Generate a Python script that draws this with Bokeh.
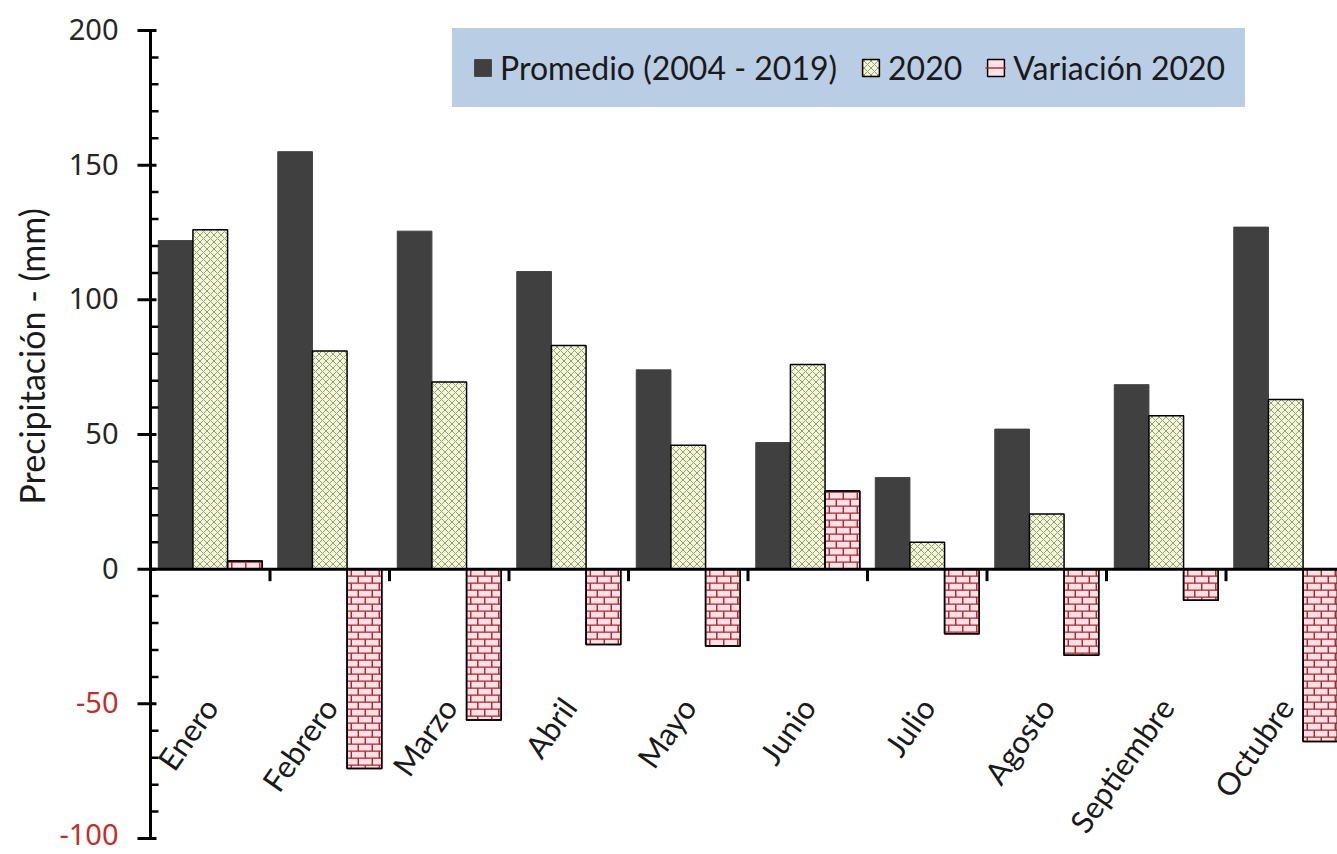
import math
import numpy as np
from bokeh.plotting import figure
from bokeh.models import Range1d, Legend, LegendItem, ColumnDataSource
from bokeh.core.properties import value
from bokeh.embed import file_html
from bokeh.resources import INLINE

# ---------------- data ----------------
months = ["Enero", "Febrero", "Marzo", "Abril", "Mayo", "Junio",
          "Julio", "Agosto", "Septiembre", "Octubre"]
promedio = [122, 155, 125.5, 110.5, 74, 47, 34, 52, 68.5, 127]
anio_2020 = [126, 81, 69.5, 83, 46, 76, 10, 20.5, 57, 63]
variacion = [3, -74, -56, -28, -28.5, 29, -24, -32, -11.5, -64]
y_tick_values = [-100, -50, 0, 50, 100, 150, 200]
y_tick_labels = ["-100", "-50", "0", "50", "100", "150", "200"]
y_min, y_max = -100, 200

# ---------------- layout constants (pixels) ----------------
FIG_W, FIG_H = 1337, 854
AXIS_X_PX = 150          # position of the value axis
CAT_PX = 119.5           # width of one month slot
TOP_PX, BOT_PX = 30, 838  # pixel rows of y_max and y_min
PPU = (BOT_PX - TOP_PX) / (y_max - y_min)


def dx(px):
    return px / CAT_PX


def dy(px):
    return px / PPU


n = len(months)
centers = np.arange(n) + 0.5
W = 0.29

src = ColumnDataSource(dict(
    xp=centers - W, x2=centers, xv=centers + W,
    prom=promedio, a2020=anio_2020, var=variacion, month=months,
))

p = figure(width=FIG_W, height=FIG_H,
           x_range=Range1d(-dx(AXIS_X_PX), dx(FIG_W - AXIS_X_PX)),
           y_range=Range1d(y_min - dy(FIG_H - BOT_PX), y_max + dy(TOP_PX)),
           output_backend="svg", toolbar_location=None,
           x_axis_location=None, y_axis_location=None, min_border=0)
p.grid.visible = False
p.outline_line_color = None
p.background_fill_color = "white"
p.border_fill_color = "white"

BRICK_RED = "#b3202b"
BRICK_FILL = "#fde3e5"

# ---------------- bars ----------------
r_prom = p.vbar(x="xp", top="prom", bottom=0, width=W, source=src,
                fill_color="#404040", line_color="#404040", line_width=1)
r_2020 = p.vbar(x="x2", top="a2020", bottom=0, width=W, source=src,
                fill_color="#f3f6dc", line_color="black", line_width=1.5,
                hatch_pattern="diagonal_cross", hatch_scale=7,
                hatch_color="#95a066", hatch_weight=1)
r_var = p.vbar(x="xv", top="var", bottom=0, width=W, source=src,
               fill_color=BRICK_FILL, line_color="black", line_width=1.5)

# brick pattern of the "Variación" bars, laid out from each bar's value
BRICK_H = dy(7)
BRICK_W = dx(14)
bx0, by0, bx1, by1 = [], [], [], []
for c, v in zip(centers + W, variacion):
    xl, xr = c - W / 2, c + W / 2
    s = 1 if v >= 0 else -1
    h = abs(v)
    nrows = int(math.ceil(h / BRICK_H - 1e-9))
    for k in range(nrows):
        y_lo = k * BRICK_H
        y_hi = min((k + 1) * BRICK_H, h)
        if k > 0:
            bx0.append(xl); bx1.append(xr)
            by0.append(s * y_lo); by1.append(s * y_lo)
        xj = xl + (0.3 if k % 2 == 0 else 0.8) * BRICK_W
        while xj < xr - 1e-9:
            bx0.append(xj); bx1.append(xj)
            by0.append(s * y_lo); by1.append(s * y_hi)
            xj += BRICK_W
r_bricks = p.segment(x0=bx0, y0=by0, x1=bx1, y1=by1,
                     line_color=BRICK_RED, line_width=1.4)
p.vbar(x="xv", top="var", bottom=0, width=W, source=src,
       fill_alpha=0, line_color="black", line_width=1.5)

# ---------------- value axis (drawn by hand so negative labels can be red) ----------------
p.segment(x0=0, y0=y_min, x1=0, y1=y_max, line_color="black", line_width=3)
major_vals = np.array(y_tick_values, dtype=float)
p.segment(x0=-dx(13), y0=major_vals, x1=dx(6), y1=major_vals,
          line_color="black", line_width=3)
minor_vals = np.array([v for v in range(y_min, y_max + 1, 10) if v % 50 != 0], dtype=float)
p.segment(x0=0, y0=minor_vals, x1=dx(8), y1=minor_vals,
          line_color="black", line_width=2.5)
upper = [(v, t) for v, t in zip(y_tick_values, y_tick_labels) if v > y_min]
lowest = [(v, t) for v, t in zip(y_tick_values, y_tick_labels) if v == y_min]
p.text(x=-dx(32), y=[v for v, _ in upper], text=[t for _, t in upper],
       text_color=["#c0302b" if v < 0 else "#262626" for v, _ in upper],
       text_align="right", text_baseline="middle", y_offset=-1,
       text_font=value("Noto Sans"), text_font_size="29px")
p.text(x=-dx(32), y=[v for v, _ in lowest], text=[t for _, t in lowest],
       text_color="#c0302b", text_align="right", text_baseline="middle",
       y_offset=-4, text_font=value("Noto Sans"), text_font_size="29px")

# axis title
p.text(x=[-dx(AXIS_X_PX - 31)], y=[79], text=["Precipitación - (mm)"],
       angle=math.pi / 2, text_align="center", text_baseline="middle",
       text_font=value("Lato"), text_font_size="34px", text_color="#1a1a1a")

# ---------------- category axis at zero ----------------
p.segment(x0=0, y0=0, x1=n + 1, y1=0, line_color="black", line_width=3)
bounds = np.arange(1, n + 1)
p.segment(x0=bounds, y0=0, x1=bounds, y1=-dy(12), line_color="black", line_width=3)

p.text(x="x2", y=-49, text="month", source=src, angle=math.radians(55),
       text_align="right", text_baseline="middle",
       text_font=value("Lato"), text_font_size="31px", text_color="#1a1a1a")

# ---------------- legend ----------------
legend = Legend(items=[
    LegendItem(label="Promedio (2004 - 2019)", renderers=[r_prom]),
    LegendItem(label="2020", renderers=[r_2020]),
    LegendItem(label="Variación 2020", renderers=[r_var, r_bricks]),
], location=(452, FIG_H - 107), orientation="horizontal",
    background_fill_color="#b9cde5", background_fill_alpha=1,
    border_line_color="#b9cde5", border_line_width=20,
    padding=0, margin=0, spacing=23,
    label_standoff=7, glyph_width=21, glyph_height=21, label_height=36,
    label_text_font="Lato", label_text_font_size="32px",
    label_text_color="#1a1a1a")
p.add_layout(legend)

open("out.html", "w").write(file_html(p, INLINE))
